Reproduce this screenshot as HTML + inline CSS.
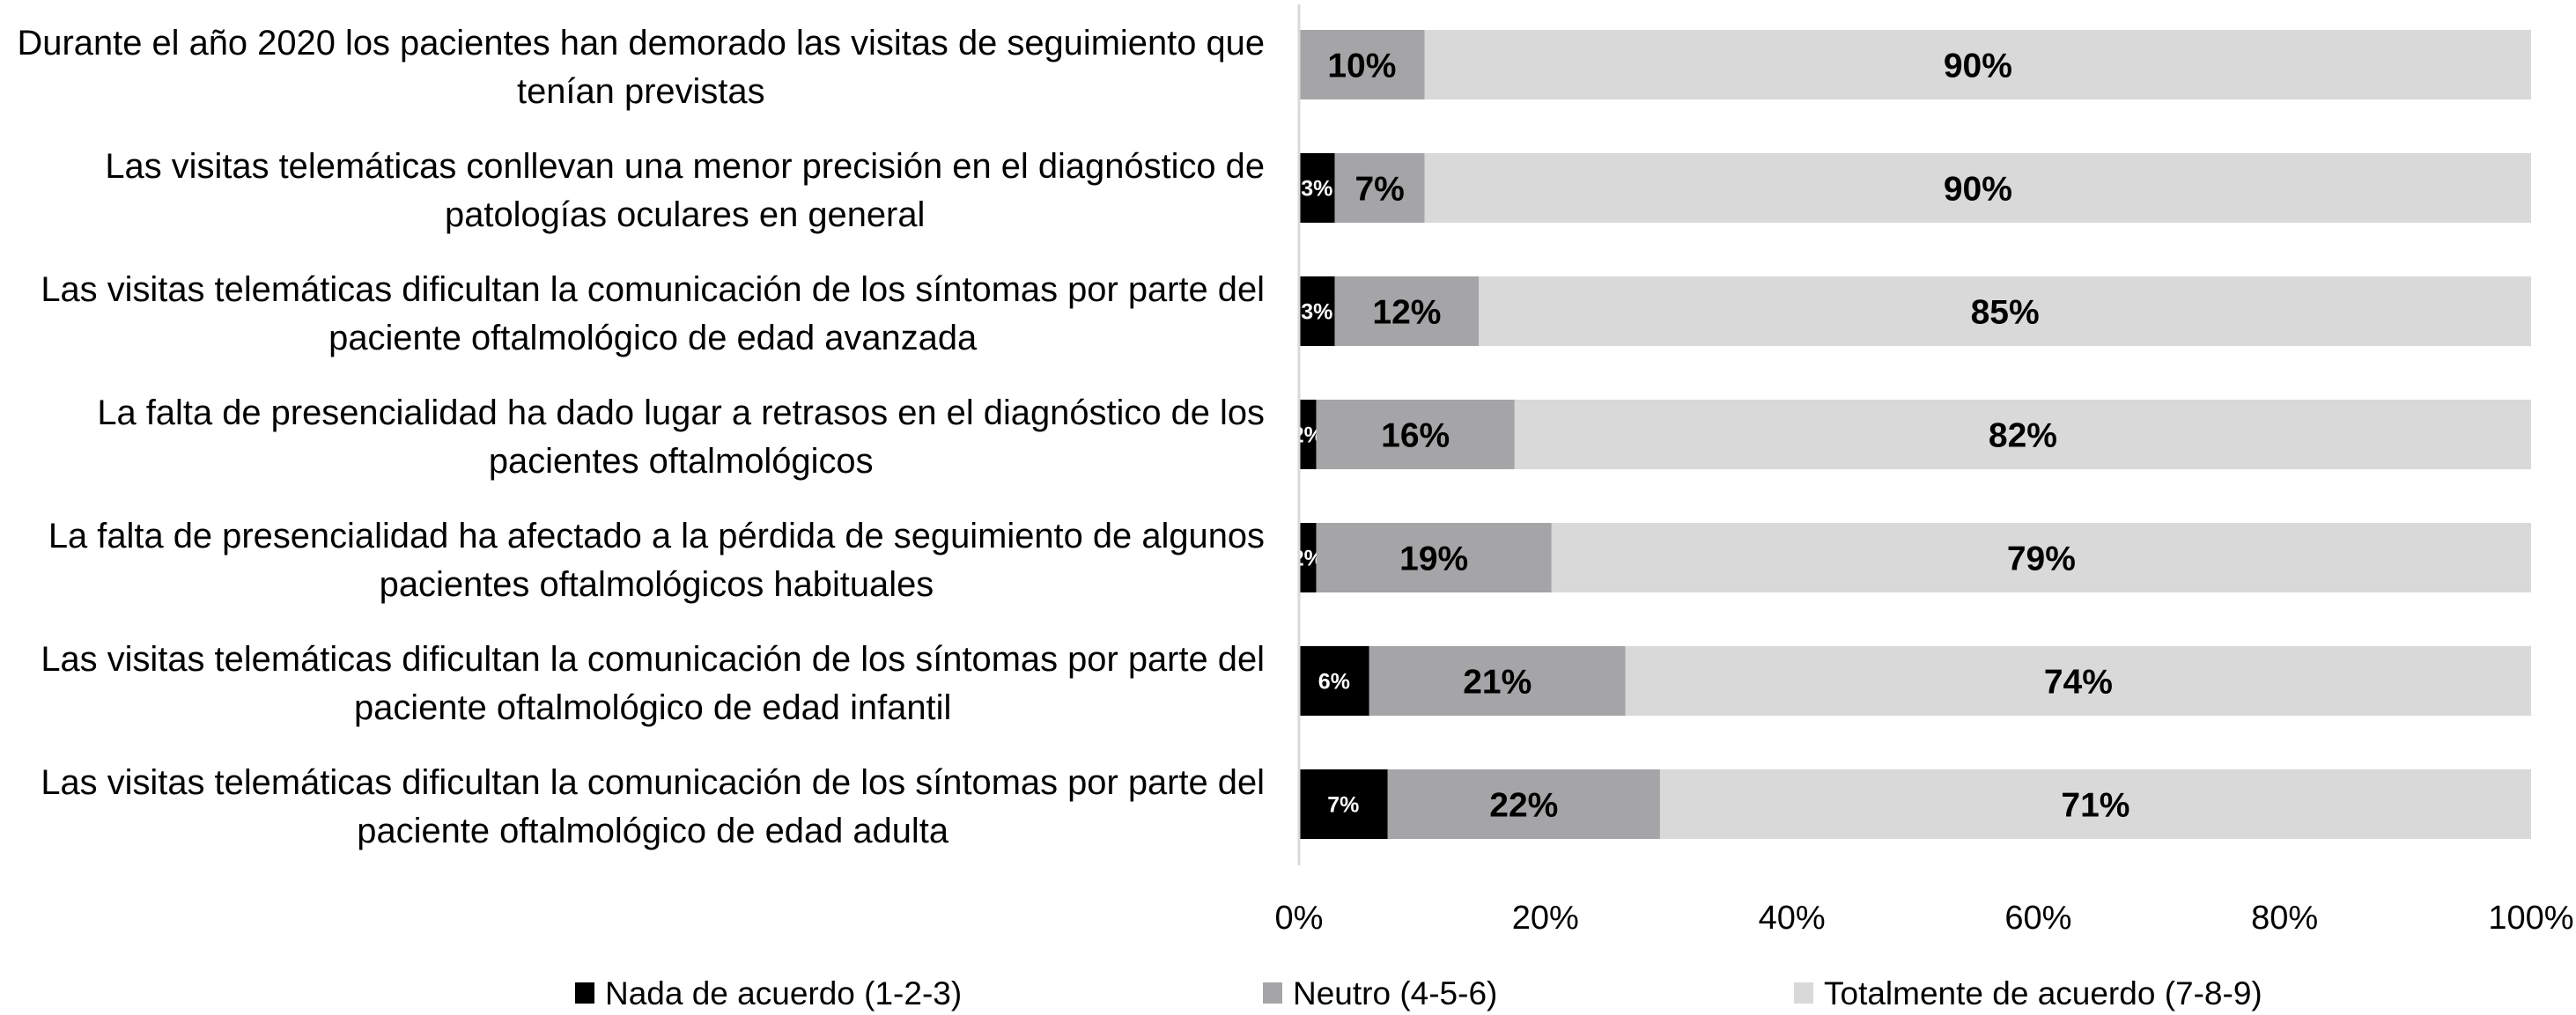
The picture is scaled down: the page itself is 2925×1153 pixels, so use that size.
<!DOCTYPE html>
<html><head><meta charset="utf-8"><style>
html,body{margin:0;padding:0;background:#fff;}
svg{display:block;font-family:"Liberation Sans",Arial,sans-serif;}
</style></head><body>
<svg id="chart" width="2925" height="1153" viewBox="0 0 2925 1153" xmlns="http://www.w3.org/2000/svg"></svg>
<script>
const categories = [
 ["Durante el año 2020 los pacientes han demorado las visitas de seguimiento que","tenían previstas"],
 ["Las visitas telemáticas conllevan una menor precisión en el diagnóstico de","patologías oculares en general"],
 ["Las visitas telemáticas dificultan la comunicación de los síntomas por parte del","paciente oftalmológico de edad avanzada"],
 ["La falta de presencialidad ha dado lugar a retrasos en el diagnóstico de los","pacientes oftalmológicos"],
 ["La falta de presencialidad ha afectado a la pérdida de seguimiento de algunos","pacientes oftalmológicos habituales"],
 ["Las visitas telemáticas dificultan la comunicación de los síntomas por parte del","paciente oftalmológico de edad infantil"],
 ["Las visitas telemáticas dificultan la comunicación de los síntomas por parte del","paciente oftalmológico de edad adulta"]
];
const nadaValues = [0, 2.9, 2.9, 1.4, 1.4, 5.7, 7.2];
const neutroValues = [10.2, 7.3, 11.7, 16.1, 19.1, 20.8, 22.1];
const totalValues = [89.8, 89.8, 85.4, 82.5, 79.5, 73.5, 70.7];
const nadaLabels = ["", "3%", "3%", "2%", "2%", "6%", "7%"];
const neutroLabels = ["10%", "7%", "12%", "16%", "19%", "21%", "22%"];
const totalLabels = ["90%", "90%", "85%", "82%", "79%", "74%", "71%"];
const tickValues = [0, 20, 40, 60, 80, 100];
const tickLabels = ["0%", "20%", "40%", "60%", "80%", "100%"];
const seriesNames = ["Nada de acuerdo (1-2-3)", "Neutro (4-5-6)", "Totalmente de acuerdo (7-8-9)"];

const NS = "http://www.w3.org/2000/svg";
const svg = document.getElementById("chart");
const X0 = 1475, X1 = 2874;
const xScale = v => X0 + (X1 - X0) * v / 100;
const yBar = i => 34 + i * 140;
const BH = 79;
const colors = ["#000000", "#a5a5a8", "#d9d9d9"];

function mk(tag, attrs, parent) {
  const e = document.createElementNS(NS, tag);
  for (const k in attrs) e.setAttribute(k, attrs[k]);
  (parent || svg).appendChild(e);
  return e;
}

const seriesVals = [nadaValues, neutroValues, totalValues];
const seriesLabs = [nadaLabels, neutroLabels, totalLabels];
for (let i = 0; i < categories.length; i++) {
  let acc = 0;
  for (let s = 0; s < 3; s++) {
    const v = seriesVals[s][i];
    const r = mk("rect", {x: xScale(acc), y: yBar(i), width: xScale(acc + v) - xScale(acc), height: BH, fill: colors[s]});
    
    
    const lab = seriesLabs[s][i];
    if (lab && v > 0) {
      const cx = (xScale(acc) + xScale(acc + v)) / 2;
      const small = s === 0;
      const t = mk("text", {x: cx, y: yBar(i) + BH / 2 + (small ? 9 : 14), "text-anchor": "middle", "font-weight": "bold", "font-size": small ? 25 : 39, fill: small ? "#fff" : "#000"});
      t.textContent = lab;
      
      
    }
    acc += v;
  }
}

const ax = mk("line", {x1: X0, y1: 5, x2: X0, y2: 983, stroke: "#d9d9d9", "stroke-width": 3});



for (let k = 0; k < tickValues.length; k++) {
  const t = mk("text", {x: xScale(tickValues[k]), y: 1055, "text-anchor": "middle", "font-size": 38, fill: "#000"});
  t.textContent = tickLabels[k];
  
  
}

const RIGHT = 1436, TARGET = 1417;
const labelEls = [];
let maxW = 0;
for (let i = 0; i < categories.length; i++) {
  const lines = [];
  for (let j = 0; j < 2; j++) {
    const t = mk("text", {x: 0, y: yBar(i) + 28 + j * 55, "text-anchor": "middle", "font-size": 33, fill: "#000"});
    t.textContent = categories[i][j];
    
    
    lines.push(t);
    maxW = Math.max(maxW, t.getComputedTextLength());
  }
  labelEls.push(lines);
}
const fs = 33 * TARGET / maxW;
for (const lines of labelEls) {
  let w = 0;
  for (const t of lines) { t.setAttribute("font-size", fs); w = Math.max(w, t.getComputedTextLength()); }
  for (const t of lines) t.setAttribute("x", RIGHT - w / 2);
}

const legX = [653, 1434, 2037];
for (let s = 0; s < 3; s++) {
  const r = mk("rect", {x: legX[s], y: 1116, width: 22, height: 24, fill: colors[s]});
  
  
  const t = mk("text", {x: legX[s] + 34, y: 1141, "font-size": 37, fill: "#000"});
  t.textContent = seriesNames[s];
  
  
}
</script>
</body></html>
